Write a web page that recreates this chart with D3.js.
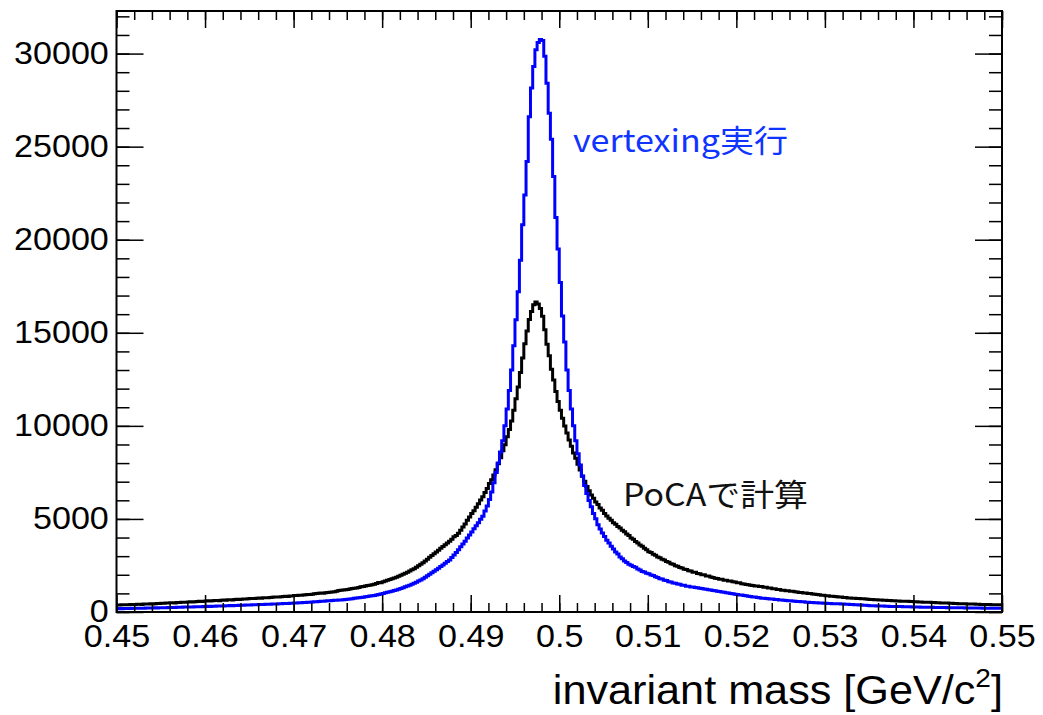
<!DOCTYPE html>
<html>
<head>
<meta charset="utf-8">
<script src="https://cdn.jsdelivr.net/npm/d3@7"></script>
<style>
  body { margin: 0; background: #fff; }
  svg { display: block; }
</style>
</head>
<body>
<svg id="chart" width="1043" height="715"></svg>
<script>
// Histogram binning: 400 bins between 0.45 and 0.55 GeV/c^2
const massMin = 0.45;
const massMax = 0.55;
const nBins = 400;

// Entries per bin, invariant mass computed at the point of closest approach
const pocaCounts = [
  382, 378, 391, 386, 395, 389, 402, 398, 405, 411,
  416, 409, 424, 430, 427, 441, 436, 448, 452, 460,
  470, 466, 481, 477, 492, 498, 489, 506, 512, 521,
  530, 526, 541, 548, 539, 557, 563, 571, 566, 580,
  590, 598, 592, 607, 615, 622, 611, 630, 641, 637,
  655, 662, 651, 671, 680, 676, 690, 698, 705, 712,
  720, 731, 726, 741, 750, 745, 761, 770, 766, 782,
  795, 802, 812, 806, 825, 833, 841, 838, 856, 866,
  880, 893, 901, 897, 917, 930, 941, 936, 958, 976,
  990, 1003, 1018, 1012, 1035, 1051, 1066, 1078, 1093, 1118,
  1150, 1162, 1181, 1196, 1214, 1229, 1260, 1275, 1294, 1318,
  1350, 1368, 1395, 1418, 1436, 1470, 1488, 1530, 1585, 1570,
  1625, 1660, 1702, 1740, 1781, 1826, 1872, 1925, 1975, 2030,
  2080, 2140, 2200, 2265, 2330, 2407, 2480, 2560, 2650, 2740,
  2838, 2935, 3030, 3130, 3225, 3324, 3420, 3515, 3610, 3705,
  3806, 3915, 4038, 4112, 4231, 4392, 4570, 4722, 4931, 5102,
  5290, 5441, 5633, 5810, 6012, 6190, 6415, 6640, 6910, 7110,
  7360, 7640, 7960, 8290, 8660, 8990, 9410, 9810, 10260, 10840,
  11460, 12090, 12860, 13640, 14410, 15090, 15710, 16140, 16510, 16660,
  16540, 16310, 15890, 15160, 14390, 13760, 13040, 12460, 11840, 11310,
  10840, 10410, 9990, 9610, 9240, 8910, 8540, 8260, 7940, 7630,
  7290, 7030, 6740, 6510, 6290, 6110, 5910, 5770, 5590, 5460,
  5290, 5160, 5030, 4930, 4800, 4710, 4590, 4510, 4390, 4310,
  4190, 4110, 3980, 3910, 3790, 3710, 3600, 3530, 3420, 3350,
  3240, 3190, 3100, 3050, 2960, 2910, 2830, 2790, 2710, 2670,
  2590, 2560, 2490, 2460, 2390, 2360, 2300, 2280, 2220, 2200,
  2140, 2130, 2075, 2060, 2005, 1995, 1940, 1930, 1875, 1860,
  1810, 1805, 1760, 1755, 1710, 1708, 1665, 1660, 1620, 1612,
  1575, 1565, 1522, 1508, 1478, 1470, 1438, 1426, 1396, 1392,
  1374, 1366, 1334, 1326, 1296, 1285, 1254, 1246, 1214, 1206,
  1175, 1170, 1143, 1140, 1114, 1110, 1084, 1080, 1054, 1050,
  1024, 1020, 994, 990, 964, 960, 934, 930, 905, 900,
  876, 872, 852, 848, 828, 824, 804, 800, 780, 776,
  757, 755, 740, 739, 724, 723, 708, 707, 692, 691,
  677, 676, 662, 662, 648, 648, 634, 634, 620, 620,
  607, 607, 595, 595, 584, 584, 572, 572, 560, 561,
  549, 550, 539, 540, 529, 529, 518, 519, 508, 508,
  498, 498, 488, 488, 478, 478, 468, 468, 458, 458,
  448, 448, 440, 440, 432, 432, 424, 424, 416, 416,
  409, 408, 403, 402, 397, 396, 391, 390, 385, 384
];

// Entries per bin, invariant mass after vertex fitting
const vertexingCounts = [
  178, 183, 181, 188, 186, 192, 190, 197, 195, 201,
  204, 208, 206, 212, 215, 213, 219, 222, 220, 226,
  230, 234, 231, 238, 242, 240, 247, 251, 249, 256,
  262, 265, 262, 270, 274, 278, 276, 284, 288, 293,
  300, 304, 302, 310, 314, 318, 316, 325, 329, 333,
  340, 344, 342, 350, 355, 360, 358, 366, 371, 375,
  380, 385, 383, 392, 397, 402, 400, 410, 416, 422,
  430, 434, 432, 442, 448, 453, 451, 461, 467, 472,
  480, 486, 491, 499, 505, 513, 520, 530, 538, 548,
  556, 565, 573, 583, 592, 601, 610, 619, 628, 634,
  640, 651, 663, 675, 690, 704, 718, 733, 748, 763,
  780, 798, 815, 835, 855, 872, 893, 915, 940, 968,
  1000, 1028, 1055, 1085, 1117, 1150, 1185, 1220, 1258, 1300,
  1350, 1395, 1440, 1490, 1545, 1600, 1660, 1725, 1790, 1870,
  1950, 2030, 2110, 2190, 2270, 2350, 2440, 2530, 2620, 2710,
  2800, 2930, 3060, 3200, 3350, 3500, 3650, 3800, 3970, 4130,
  4300, 4470, 4640, 4800, 4980, 5150, 5420, 5700, 6050, 6450,
  6950, 7500, 8000, 8600, 9200, 10000, 10900, 11900, 13000, 14300,
  15700, 17200, 18900, 20800, 22400, 24200, 26600, 28150, 29300, 30200,
  30600, 30750, 30700, 29850, 28400, 26800, 25400, 23400, 21200, 19500,
  17700, 15900, 14500, 13000, 11900, 10900, 10000, 9200, 8500, 7900,
  7310, 6790, 6360, 5990, 5660, 5290, 5010, 4690, 4460, 4240,
  4060, 3860, 3710, 3530, 3390, 3230, 3110, 2960, 2860, 2740,
  2660, 2560, 2510, 2440, 2410, 2310, 2260, 2180, 2150, 2080,
  2060, 1990, 1960, 1890, 1860, 1790, 1770, 1710, 1690, 1630,
  1610, 1560, 1550, 1500, 1490, 1440, 1435, 1390, 1385, 1340,
  1345, 1315, 1305, 1275, 1265, 1235, 1225, 1195, 1185, 1155,
  1145, 1115, 1105, 1075, 1065, 1035, 1025, 995, 985, 955,
  945, 918, 908, 882, 872, 846, 836, 810, 800, 774,
  764, 744, 740, 720, 716, 696, 692, 672, 668, 648,
  644, 626, 623, 606, 604, 586, 584, 566, 564, 546,
  544, 530, 529, 516, 515, 502, 501, 488, 487, 474,
  473, 461, 460, 449, 449, 437, 437, 425, 425, 413,
  413, 400, 399, 386, 386, 372, 372, 358, 358, 345,
  342, 334, 333, 326, 326, 318, 318, 310, 310, 302,
  302, 295, 295, 289, 289, 283, 283, 277, 277, 271,
  271, 266, 266, 261, 261, 256, 256, 251, 251, 246,
  246, 242, 242, 238, 238, 234, 234, 230, 230, 226,
  226, 222, 223, 219, 220, 216, 217, 213, 214, 210,
  211, 207, 208, 205, 206, 202, 203, 199, 200, 197
];

// Axis ticks
const yMajorTicks = [0, 5000, 10000, 15000, 20000, 25000, 30000];
const yMajorLabels = ["0", "5000", "10000", "15000", "20000", "25000", "30000"];
const xMajorTicks = [0.45, 0.46, 0.47, 0.48, 0.49, 0.50, 0.51, 0.52, 0.53, 0.54, 0.55];
const xMajorLabels = ["0.45", "0.46", "0.47", "0.48", "0.49", "0.5", "0.51", "0.52", "0.53", "0.54", "0.55"];

const xTitle = "invariant mass [GeV/c";
const xTitleSup = "2";
const xTitleEnd = "]";
const vertexLabel = "vertexing実行";
const pocaLabel = "PoCAで計算";

// ---- layout ----
const frame = { left: 116.5, right: 1002, top: 11, bottom: 612 };
const svg = d3.select("#chart");

const x = d3.scaleLinear().domain([massMin, massMax]).range([frame.left, frame.right]);
const yMax = 1.05 * d3.max(vertexingCounts);
const y = d3.scaleLinear().domain([0, yMax]).range([frame.bottom, frame.top]);

const binWidth = (massMax - massMin) / nBins;
const xMinorTicks = d3.range(0, 51).map(i => massMin + i * 0.002);
const yMinorTicks = d3.range(0, Math.floor(yMax / 1000) + 1).map(i => i * 1000);

const labelFont = "'Liberation Sans', Arial, Helvetica, sans-serif";

// clip region for the histograms
svg.append("defs").append("clipPath").attr("id", "plotClip")
  .append("rect")
  .attr("x", frame.left).attr("y", frame.top)
  .attr("width", frame.right - frame.left).attr("height", frame.bottom - frame.top);

// ---- histograms ----
function stepPoints(counts) {
  const pts = counts.map((c, i) => [massMin + i * binWidth, c]);
  pts.push([massMax, counts[counts.length - 1]]);
  return pts;
}
const stepLine = d3.line()
  .x(d => x(d[0]))
  .y(d => y(d[1]))
  .curve(d3.curveStepAfter);

const hists = svg.append("g").attr("clip-path", "url(#plotClip)");
hists.append("path")
  .attr("d", stepLine(stepPoints(pocaCounts)))
  .attr("fill", "none").attr("stroke", "#000000").attr("stroke-width", 3)
  .attr("stroke-linejoin", "miter");
hists.append("path")
  .attr("d", stepLine(stepPoints(vertexingCounts)))
  .attr("fill", "none").attr("stroke", "#0000ff").attr("stroke-width", 3)
  .attr("stroke-linejoin", "miter");

// ---- axes (ticks pointing into the frame) ----
function styleAxis(g) {
  g.select(".domain").remove();
  g.selectAll(".tick line").attr("stroke", "#000").attr("stroke-width", 1.5);
}

// bottom
svg.append("g").attr("transform", `translate(0,${frame.bottom})`)
  .call(d3.axisBottom(x).tickValues(xMinorTicks).tickSize(-9).tickSizeOuter(0).tickFormat(""))
  .call(styleAxis);
const xAxisMajor = svg.append("g").attr("transform", `translate(0,${frame.bottom})`)
  .call(d3.axisBottom(x).tickValues(xMajorTicks).tickSize(-17).tickSizeOuter(0).tickPadding(13)
    .tickFormat((d, i) => xMajorLabels[i]))
  .call(styleAxis);
xAxisMajor.selectAll(".tick text")
  .attr("font-family", labelFont).attr("font-size", 31).attr("fill", "#000")
  .attr("transform", "scale(1.1,1)");

// top
svg.append("g").attr("transform", `translate(0,${frame.top})`)
  .call(d3.axisTop(x).tickValues(xMinorTicks).tickSize(-9).tickSizeOuter(0).tickFormat(""))
  .call(styleAxis);
svg.append("g").attr("transform", `translate(0,${frame.top})`)
  .call(d3.axisTop(x).tickValues(xMajorTicks).tickSize(-17).tickSizeOuter(0).tickFormat(""))
  .call(styleAxis);

// left
svg.append("g").attr("transform", `translate(${frame.left},0)`)
  .call(d3.axisLeft(y).tickValues(yMinorTicks).tickSize(-13).tickSizeOuter(0).tickFormat(""))
  .call(styleAxis);
const yAxisMajor = svg.append("g").attr("transform", `translate(${frame.left},0)`)
  .call(d3.axisLeft(y).tickValues(yMajorTicks).tickSize(-27).tickSizeOuter(0).tickPadding(7)
    .tickFormat((d, i) => yMajorLabels[i]))
  .call(styleAxis);
yAxisMajor.selectAll(".tick text")
  .attr("font-family", labelFont).attr("font-size", 31).attr("fill", "#000")
  .attr("transform", "scale(1.1,1)");

// right
svg.append("g").attr("transform", `translate(${frame.right},0)`)
  .call(d3.axisRight(y).tickValues(yMinorTicks).tickSize(-13).tickSizeOuter(0).tickFormat(""))
  .call(styleAxis);
svg.append("g").attr("transform", `translate(${frame.right},0)`)
  .call(d3.axisRight(y).tickValues(yMajorTicks).tickSize(-27).tickSizeOuter(0).tickFormat(""))
  .call(styleAxis);

// frame
svg.append("rect")
  .attr("x", frame.left).attr("y", frame.top)
  .attr("width", frame.right - frame.left).attr("height", frame.bottom - frame.top)
  .attr("fill", "none").attr("stroke", "#000").attr("stroke-width", 2);

// x-axis title, right aligned to the frame
const title = svg.append("g").attr("transform", `translate(${frame.right + 1},704) scale(1.08,1)`)
  .append("text")
  .attr("text-anchor", "end")
  .attr("font-family", labelFont).attr("font-size", 40).attr("fill", "#000");
title.append("tspan").text(xTitle);
title.append("tspan").attr("font-size", 26).attr("dy", -17).text(xTitleSup);
title.append("tspan").attr("dy", 17).text(xTitleEnd);

// curve annotations
svg.append("text")
  .attr("x", 573).attr("y", 152)
  .attr("font-family", "'Noto Sans CJK JP', 'Noto Sans', sans-serif")
  .attr("font-size", 31).attr("fill", "#1034ff")
  .attr("textLength", 215).attr("lengthAdjust", "spacingAndGlyphs")
  .text(vertexLabel);
svg.append("text")
  .attr("x", 623).attr("y", 506)
  .attr("font-family", "'Noto Sans CJK JP', 'Noto Sans', sans-serif")
  .attr("font-size", 31).attr("fill", "#111")
  .attr("textLength", 185).attr("lengthAdjust", "spacingAndGlyphs")
  .text(pocaLabel);
</script>
</body>
</html>
